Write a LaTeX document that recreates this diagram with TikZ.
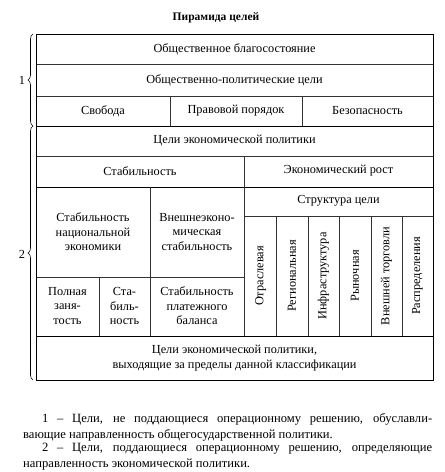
\documentclass[tikz,border=0pt]{standalone}
\usepackage{fontspec}
\setmainfont{Liberation Serif}
\usetikzlibrary{decorations.pathreplacing, positioning}

\begin{document}
\begin{tikzpicture}[x=1pt, y=-1pt,
    every node/.style={font=\fontsize{12.3}{14.5}\selectfont, inner sep=0pt},
    cell/.style={align=center},
    vcell/.style={rotate=90},
    grid/.style={line width=0.5pt, black!80},
    frame/.style={line width=0.9pt},
    brace/.style={decorate, decoration={brace, amplitude=5pt}, line width=0.6pt},
    note/.style={font=\fontsize{12.6}{16}\selectfont, text width=409pt, align=justify, anchor=north west}]
    \useasboundingbox (0,0) rectangle (445,472);
    \node[font=\fontsize{11.5}{13}\selectfont\bfseries] (title) at (216,18) {Пирамида целей};

    \draw[grid] (36,64) -- (433,64) (36,96) -- (433,96) (36,156) -- (433,156);
    \draw[grid] (244,216) -- (433,216) (36,277) -- (244,277);
    \draw[frame] (36,126) -- (433,126) (36,187) -- (433,187) (36,336) -- (433,336);
    \draw[grid] (170,96) -- (170,126) (302,96) -- (302,126);
    \draw[grid] (244,156) -- (244,336) (150,187) -- (150,336) (99,277) -- (99,336);
    \foreach \x in {276,308,339,371,402}
        \draw[grid] (\x,216) -- (\x,336);
    \draw[frame] (36,34) rectangle (433,380);

    \node (welfare) at (234.5,49) {Общественное благосостояние};
    \node (social) at (234.5,80) {Общественно-политические цели};
    \node (freedom) at (103,111) {Свобода};
    \node (law) at (236,111) {Правовой порядок};
    \node (safety) at (367.5,111) {Безопасность};
    \node (econ) at (234.5,141) {Цели экономической политики};
    \node (stab) at (140,171) {Стабильность};
    \node (growth) at (338.5,171) {Экономический рост};
    \node[cell] (national) at (93,232) {Стабильность\\национальной\\экономики};
    \node[cell] (external) at (197,232) {Внешнеэконо-\\мическая\\стабильность};
    \node (structure) at (338.5,201) {Структура цели};
    \node[vcell] (branch) at (260.5,276) {Отраслевая};
    \node[vcell] (region) at (292,276) {Региональная};
    \node[vcell] (infra) at (323.5,276) {Инфраструктура};
    \node[vcell] (market) at (355,276) {Рыночная};
    \node[vcell] (trade) at (386.5,276) {Внешней торговли};
    \node[vcell] (distrib) at (417.5,276) {Распределения};
    \node[cell] (employ) at (67.5,306) {Полная\\заня-\\тость};
    \node[cell] (prices) at (124.5,306) {Ста-\\биль-\\ность};
    \node[cell] (balance) at (197,306) {Стабильность\\платежного\\баланса};
    \node[cell] (beyond) at (234.5,358) {Цели экономической политики,\\выходящие за пределы данной классификации};

    \draw[brace] (33,126) -- (33,34);
    \draw[brace] (33,380) -- (33,126);
    \node (one) at (22,80) {1};
    \node (two) at (22,254) {2};

    \node[note] (note1) at (23,413) {\hspace*{19pt}1 – Цели, не поддающиеся операционному решению, обуславли-\linebreak вающие направленность общегосударственной политики.};
    \node[note, below=2pt of note1.south west, anchor=north west] (note2) {\hspace*{19pt}2 – Цели, поддающиеся операционному решению, определяющие\linebreak направленность экономической политики.};
\end{tikzpicture}
\end{document}
